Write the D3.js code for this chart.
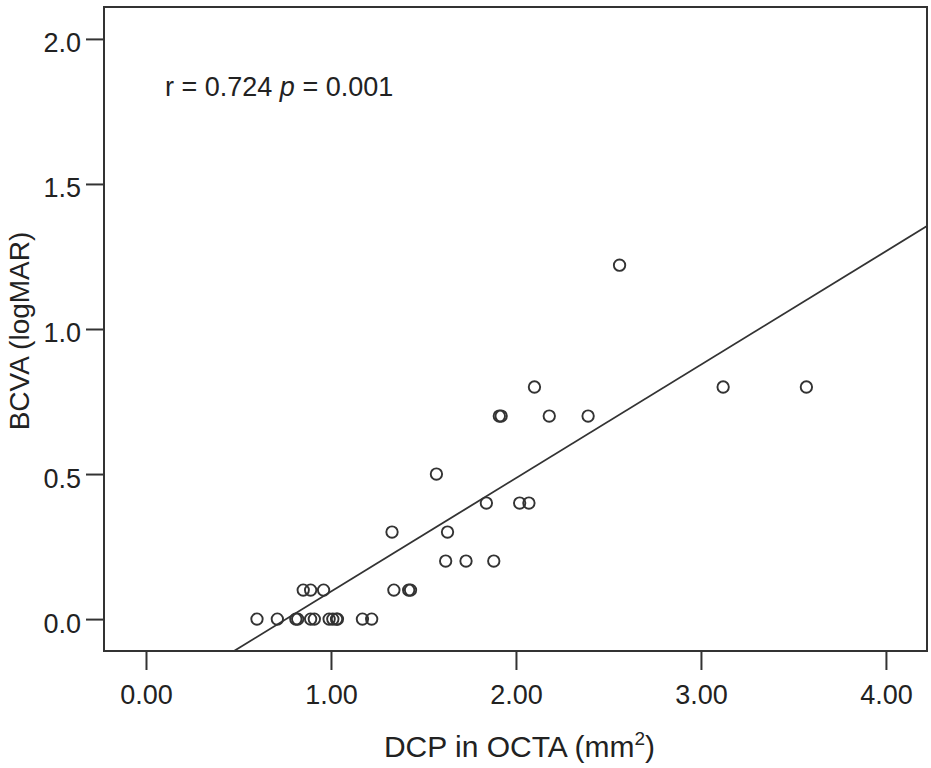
<!DOCTYPE html>
<html>
<head>
<meta charset="utf-8">
<script src="https://cdn.jsdelivr.net/npm/d3@7"></script>
<style>
  body { margin: 0; background: #fff; }
  svg text { font-family: "Liberation Sans", Arial, sans-serif; fill: #222; }
</style>
</head>
<body>
<div id="chart"></div>
<script>
// DCP area (mm2) vs BCVA (logMAR)
var dcp  = [0.60, 0.71, 0.81, 0.82, 0.89, 0.91, 0.99, 1.01, 1.03, 1.035, 1.17, 1.22,
            0.85, 0.89, 0.96, 1.34, 1.42, 1.43,
            1.62, 1.73, 1.88,
            1.33, 1.63,
            1.84, 2.02, 2.07,
            1.57,
            1.91, 1.92, 2.18, 2.39,
            2.10, 3.12, 3.57,
            2.56];
var bcva = [0, 0, 0, 0, 0, 0, 0, 0, 0, 0, 0, 0,
            0.1, 0.1, 0.1, 0.1, 0.1, 0.1,
            0.2, 0.2, 0.2,
            0.3, 0.3,
            0.4, 0.4, 0.4,
            0.5,
            0.7, 0.7, 0.7, 0.7,
            0.8, 0.8, 0.8,
            1.22];
var xTicks = [0, 1, 2, 3, 4];
var yTicks = [0, 0.5, 1.0, 1.5, 2.0];
// fit line: y = a + b*x
var fitIntercept = -0.296, fitSlope = 0.391;
var statText = ["r = 0.724 ", "p", " = 0.001"];

var W = 931, H = 768;
var plotL = 104, plotR = 927, plotT = 7, plotB = 651;

var svg = d3.select("#chart").append("svg").attr("width", W).attr("height", H);

var x = d3.scaleLinear().domain([-0.227, 4.222]).range([plotL, plotR]);
var y = d3.scaleLinear().domain([-0.110, 2.110]).range([plotB, plotT]);

var ink = "#333";

// frame
svg.append("rect")
  .attr("x", plotL).attr("y", plotT)
  .attr("width", plotR - plotL).attr("height", plotB - plotT)
  .attr("fill", "none").attr("stroke", ink).attr("stroke-width", 2);

// axes
var xAxis = svg.append("g").attr("transform", "translate(0," + plotB + ")")
  .call(d3.axisBottom(x).tickValues(xTicks).tickFormat(d3.format(".2f")).tickSize(19).tickSizeOuter(0).tickPadding(8));
var yAxis = svg.append("g").attr("transform", "translate(" + plotL + ",0)")
  .call(d3.axisLeft(y).tickValues(yTicks).tickFormat(d3.format(".1f")).tickSize(18).tickSizeOuter(0).tickPadding(5));

[xAxis, yAxis].forEach(function(g) {
  g.select(".domain").remove();
  g.selectAll(".tick line").attr("stroke", ink).attr("stroke-width", 2);
  g.selectAll(".tick text").attr("fill", "#222").style("font-size", "27px")
    .style("font-family", "'Liberation Sans', Arial, sans-serif");
});
yAxis.selectAll(".tick text").attr("dy", "0.48em");
xAxis.selectAll(".tick text").attr("dy", "0.95em");

// regression line clipped to the frame
var x0 = (y.domain()[0] - fitIntercept) / fitSlope;
var x1 = x.domain()[1];
svg.append("line")
  .attr("x1", x(x0)).attr("y1", y(fitIntercept + fitSlope * x0))
  .attr("x2", x(x1)).attr("y2", y(fitIntercept + fitSlope * x1))
  .attr("stroke", ink).attr("stroke-width", 1.8);

// points
var pts = dcp.map(function(d, i) { return [d, bcva[i]]; });
svg.append("g").selectAll("circle").data(pts).enter().append("circle")
  .attr("cx", function(d) { return x(d[0]); })
  .attr("cy", function(d) { return y(d[1]); })
  .attr("r", 5.7)
  .attr("fill", "none")
  .attr("stroke", "#333")
  .attr("stroke-width", 1.9);

// stats annotation
var st = svg.append("text").attr("x", 165).attr("y", 96).style("font-size", "27px");
st.append("tspan").text(statText[0]);
st.append("tspan").style("font-style", "italic").text(statText[1]);
st.append("tspan").text(statText[2]);

// axis titles
var xt = svg.append("text").attr("x", (plotL + plotR) / 2 + 4).attr("y", 757)
  .attr("text-anchor", "middle").style("font-size", "30px");
xt.append("tspan").text("DCP in OCTA (mm");
xt.append("tspan").attr("dy", -12).style("font-size", "19px").text("2");
xt.append("tspan").attr("dy", 12).text(")");

svg.append("text")
  .attr("transform", "translate(29," + ((plotT + plotB) / 2 + 2) + ") rotate(-90)")
  .attr("text-anchor", "middle").style("font-size", "28px")
  .text("BCVA (logMAR)");
</script>
</body>
</html>
